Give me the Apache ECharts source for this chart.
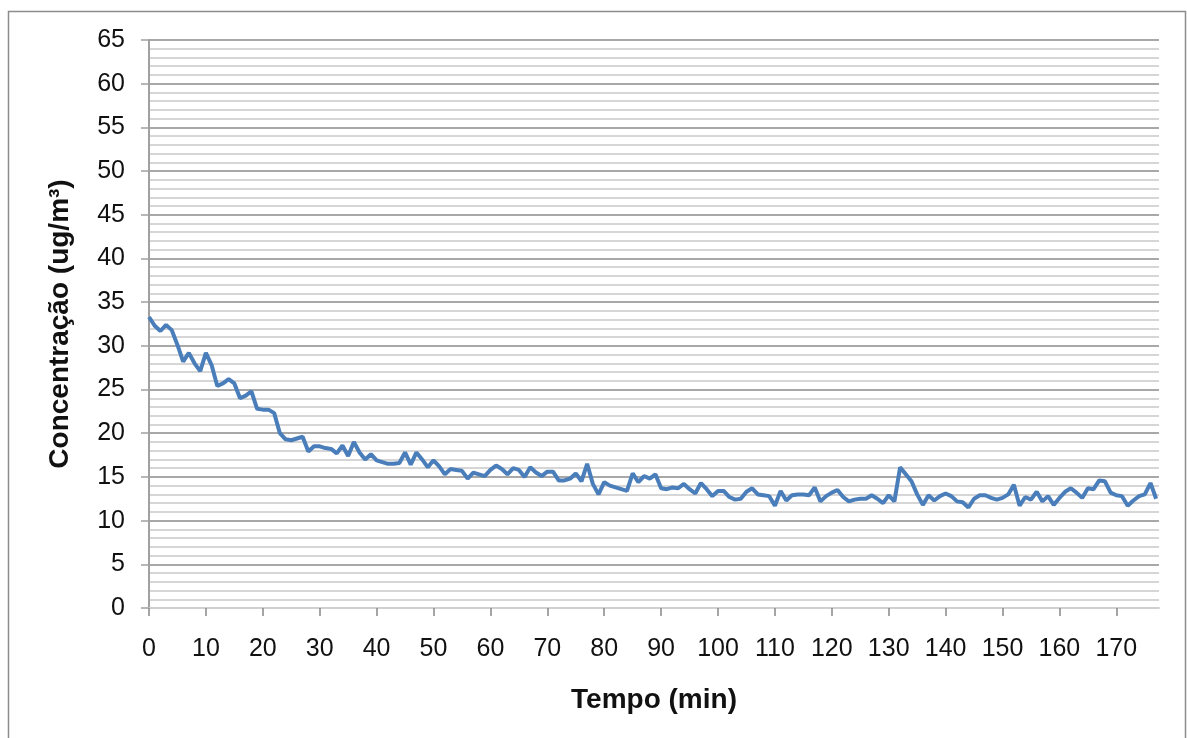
<!DOCTYPE html>
<html>
<head>
<meta charset="utf-8">
<script src="https://cdn.jsdelivr.net/npm/echarts@6/dist/echarts.min.js"></script>
<style>
  html, body { margin: 0; padding: 0; background: #fff; }
  #chart { width: 1187px; height: 738px; }
</style>
</head>
<body>
<div id="chart"></div>
<script>
// concentração lida a cada minuto (0..177)
const concentracao = [
  33.3, 32.3, 31.7, 32.4, 31.8, 30.1, 28.2, 29.2, 28.0, 27.1,
  29.2, 27.8, 25.4, 25.7, 26.2, 25.7, 24.0, 24.3, 24.8, 22.8,
  22.7, 22.7, 22.3, 20.0, 19.3, 19.2, 19.4, 19.6, 17.9, 18.5,
  18.5, 18.3, 18.2, 17.7, 18.6, 17.4, 19.0, 17.8, 17.0, 17.6,
  16.9, 16.7, 16.5, 16.5, 16.6, 17.8, 16.4, 17.8, 17.0, 16.1,
  16.9, 16.2, 15.3, 15.9, 15.8, 15.7, 14.8, 15.5, 15.3, 15.1,
  15.8, 16.3, 15.9, 15.3, 16.0, 15.8, 15.0, 16.1, 15.5, 15.1,
  15.6, 15.6, 14.6, 14.6, 14.8, 15.4, 14.5, 16.5, 14.2, 13.0,
  14.4, 14.0, 13.8, 13.6, 13.4, 15.4, 14.4, 15.1, 14.8, 15.3,
  13.7, 13.6, 13.8, 13.7, 14.2, 13.6, 13.1, 14.3, 13.6, 12.8,
  13.4, 13.4, 12.7, 12.4, 12.5, 13.3, 13.7, 13.0, 12.9, 12.8,
  11.7, 13.4, 12.3, 12.9, 13.0, 13.0, 12.9, 13.8, 12.2, 12.8,
  13.2, 13.5, 12.7, 12.2, 12.4, 12.5, 12.5, 12.9, 12.5, 12.0,
  12.9, 12.2, 16.1, 15.3, 14.5, 13.0, 11.8, 12.9, 12.3, 12.8,
  13.1, 12.8, 12.2, 12.1, 11.5, 12.5, 12.9, 12.9, 12.6, 12.4,
  12.6, 13.0, 14.1, 11.7, 12.7, 12.4, 13.3, 12.2, 12.8, 11.8,
  12.6, 13.3, 13.7, 13.2, 12.6, 13.7, 13.6, 14.6, 14.5, 13.2,
  12.9, 12.8, 11.7, 12.3, 12.8, 13.0, 14.3, 12.5
]
const tempo = concentracao.map((v, i) => i)
const tempoMax = 177.5
const yMin = 0
const yMax = 65
const yStep = 5
const xStep = 10

const chart = echarts.init(document.getElementById('chart'))

const fonte = 'Liberation Sans, Arial, sans-serif'
const labelFont = { fontFamily: fonte, fontSize: 25, color: '#111' }
const titleFont = { fontFamily: fonte, fontSize: 28, fontWeight: 'bold', color: '#111' }

const option = {
  backgroundColor: '#fff',
  animation: false,
  graphic: [
    {
      type: 'rect',
      shape: { x: 8.5, y: 11.5, width: 1177, height: 740 },
      style: { fill: 'none', stroke: '#8c8c8c', lineWidth: 1.5 },
      silent: true
    }
  ],
  grid: { left: 149, top: 40, width: 1010, height: 568, containLabel: false },
  xAxis: {
    type: 'value',
    min: 0,
    max: tempoMax,
    interval: xStep,
    name: 'Tempo (min)',
    nameLocation: 'middle',
    nameGap: 78,
    nameTextStyle: titleFont,
    axisLine: { show: true, onZero: false, lineStyle: { color: '#d0d0d0', width: 2 } },
    axisTick: { show: true, inside: false, length: 8, lineStyle: { color: '#888', width: 1.5 } },
    axisLabel: Object.assign({ margin: 29, showMaxLabel: false }, labelFont),
    splitLine: { show: false }
  },
  yAxis: {
    type: 'value',
    min: yMin,
    max: yMax,
    interval: yStep,
    name: 'Concentração (ug/m³)',
    nameLocation: 'middle',
    nameGap: 75,
    nameRotate: 90,
    nameTextStyle: titleFont,
    axisLine: { show: true, lineStyle: { color: '#a0a0a0', width: 2 } },
    axisTick: { show: true, length: 8, lineStyle: { color: '#a0a0a0', width: 1.5 } },
    axisLabel: Object.assign({ margin: 24 }, labelFont),
    splitLine: { show: true, lineStyle: { color: '#a8a8a8', width: 2 } },
    minorTick: { show: false, splitNumber: 5 },
    minorSplitLine: { show: true, lineStyle: { color: '#d6d6d6', width: 2 } }
  },
  series: [
    {
      type: 'line',
      data: tempo.map((t, i) => [t, concentracao[i]]),
      showSymbol: false,
      lineStyle: { color: '#4a7ebb', width: 4 },
      z: 5
    }
  ]
}
option && chart.setOption(option)
</script>
</body>
</html>
